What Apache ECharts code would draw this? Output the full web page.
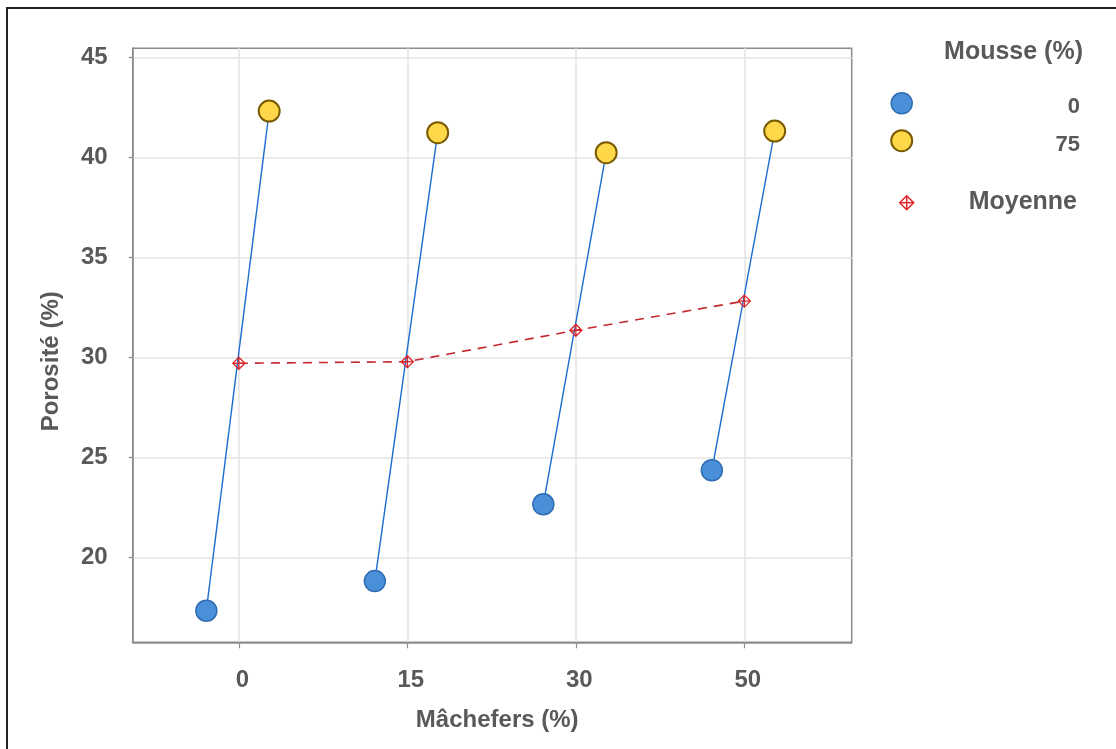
<!DOCTYPE html>
<html>
<head>
<meta charset="utf-8">
<script src="https://cdn.jsdelivr.net/npm/echarts@6/dist/echarts.min.js"></script>
<style>
html,body{margin:0;padding:0;background:#fff;}
#chart{width:1116px;height:749px;}
</style>
</head>
<body>
<div id="chart"></div>
<script>
// ---- data ----
var categories = ['0', '15', '30', '50'];          // Mâchefers (%)
var mousse0 = [17.35, 18.83, 22.67, 24.37];         // Mousse 0 %
var mousse75 = [42.33, 41.25, 40.25, 41.33];        // Mousse 75 %
var moyenne = [29.72, 29.80, 31.37, 32.83];         // Moyenne
var yTicks = [20, 25, 30, 35, 40, 45];

// ---- layout helpers (positions, not data) ----
var OFF0 = -0.193, OFF75 = 0.18;
var catPos = categories.map(function (c, i) { return i + 1; });

var chart = echarts.init(document.getElementById('chart'));
var FONT = 'Liberation Sans';
var TXT = '#595959';
var AXC = '#8c8c8c';

var series = [];
categories.forEach(function (c, i) {
  series.push({
    type: 'line',
    name: 'lien' + c,
    data: [[catPos[i] + OFF0, mousse0[i]], [catPos[i] + OFF75, mousse75[i]]],
    symbol: 'none',
    lineStyle: { color: '#1c6cd1', width: 1.4 },
    silent: true,
    z: 2
  });
});
series.push({
  type: 'line',
  name: 'Moyenne',
  data: moyenne.map(function (v, i) { return [catPos[i], v]; }),
  symbol: 'path://M0,-10 L10,0 L0,10 L-10,0 Z M0,-10 L0,10 M-10,0 L10,0',
  symbolSize: 12,
  showSymbol: true,
  itemStyle: { color: 'rgba(255,255,255,0)', borderColor: '#d9262a', borderWidth: 1.3 },
  lineStyle: { color: '#c3282d', width: 1.6, type: [9, 7] },
  z: 4
});
series.push({
  type: 'scatter',
  name: '0',
  data: mousse0.map(function (v, i) { return [catPos[i] + OFF0, v]; }),
  symbol: 'circle',
  symbolSize: 21,
  itemStyle: { color: '#4a90d9', borderColor: '#2f6db3', borderWidth: 1.5, opacity: 1 },
  z: 5
});
series.push({
  type: 'scatter',
  name: '75',
  data: mousse75.map(function (v, i) { return [catPos[i] + OFF75, v]; }),
  symbol: 'circle',
  symbolSize: 21,
  itemStyle: { color: '#ffd84a', borderColor: '#7a5a00', borderWidth: 2, opacity: 1 },
  z: 5
});

var DX = 906.7, DY = 202.7, DR = 7;
var option = {
  backgroundColor: '#fff',
  animation: false,
  grid: {
    left: 132.7, top: 48.3, right: 264.3, bottom: 106.7,
    show: true, borderColor: AXC, borderWidth: 1.5, backgroundColor: 'transparent'
  },
  xAxis: {
    type: 'value',
    min: 0.37, max: 4.637,
    name: 'Mâchefers (%)',
    nameLocation: 'middle',
    nameGap: 66,
    nameTextStyle: { fontFamily: FONT, fontWeight: 'bold', fontSize: 24, color: TXT, padding: [0, 0, 0, 10] },
    axisLine: { show: true, lineStyle: { color: AXC, width: 1.5 } },
    axisTick: { show: true, customValues: catPos, length: 6, lineStyle: { color: AXC, width: 1.2 } },
    axisLabel: {
      customValues: catPos,
      margin: 26,
      fontFamily: FONT, fontWeight: 'bold', fontSize: 24, color: TXT,
      padding: [0, 0, 0, 7],
      formatter: function (v) { return categories[Math.round(v) - 1]; }
    },
    splitLine: { show: true, lineStyle: { color: '#e3e3e3', width: 1.5 } }
  },
  yAxis: {
    type: 'value',
    min: 15.77, max: 45.47,
    name: 'Porosité (%)',
    nameLocation: 'middle',
    nameGap: 69,
    nameRotate: 90,
    nameTextStyle: { fontFamily: FONT, fontWeight: 'bold', fontSize: 24, color: TXT, padding: [0, 32, 0, 0] },
    axisLine: { show: true, lineStyle: { color: AXC, width: 1.5 } },
    axisTick: { show: true, customValues: yTicks, length: 4, lineStyle: { color: AXC, width: 1.2 } },
    axisLabel: {
      customValues: yTicks,
      margin: 25,
      fontFamily: FONT, fontWeight: 'bold', fontSize: 24, color: TXT
    },
    splitLine: { show: true, lineStyle: { color: '#e3e3e3', width: 1.5 } }
  },
  series: series,
  graphic: [
    { type: 'rect', shape: { x: 7, y: 8, width: 1140, height: 780 }, style: { fill: 'none', stroke: '#222', lineWidth: 2 }, silent: true },
    { type: 'text', x: 1083, y: 52, style: { text: 'Mousse (%)', align: 'right', verticalAlign: 'middle', font: 'bold 25px ' + FONT, fill: TXT } },
    { type: 'circle', shape: { cx: 901.7, cy: 103.3, r: 10.5 }, style: { fill: '#4a90d9', stroke: '#2f6db3', lineWidth: 1.5 } },
    { type: 'text', x: 1080, y: 107, style: { text: '0', align: 'right', verticalAlign: 'middle', font: 'bold 22px ' + FONT, fill: TXT } },
    { type: 'circle', shape: { cx: 901.7, cy: 140.7, r: 10.5 }, style: { fill: '#ffd84a', stroke: '#7a5a00', lineWidth: 2 } },
    { type: 'text', x: 1080, y: 145, style: { text: '75', align: 'right', verticalAlign: 'middle', font: 'bold 22px ' + FONT, fill: TXT } },
    { type: 'polygon', shape: { points: [[DX, DY - DR], [DX + DR, DY], [DX, DY + DR], [DX - DR, DY]] }, style: { fill: 'none', stroke: '#e0262a', lineWidth: 1.5 } },
    { type: 'line', shape: { x1: DX, y1: DY - DR, x2: DX, y2: DY + DR }, style: { stroke: '#e0262a', lineWidth: 1.5 } },
    { type: 'line', shape: { x1: DX - DR, y1: DY, x2: DX + DR, y2: DY }, style: { stroke: '#e0262a', lineWidth: 1.5 } },
    { type: 'text', x: 1077, y: 202, style: { text: 'Moyenne', align: 'right', verticalAlign: 'middle', font: 'bold 25px ' + FONT, fill: TXT } }
  ]
};
chart.setOption(option);
</script>
</body>
</html>
